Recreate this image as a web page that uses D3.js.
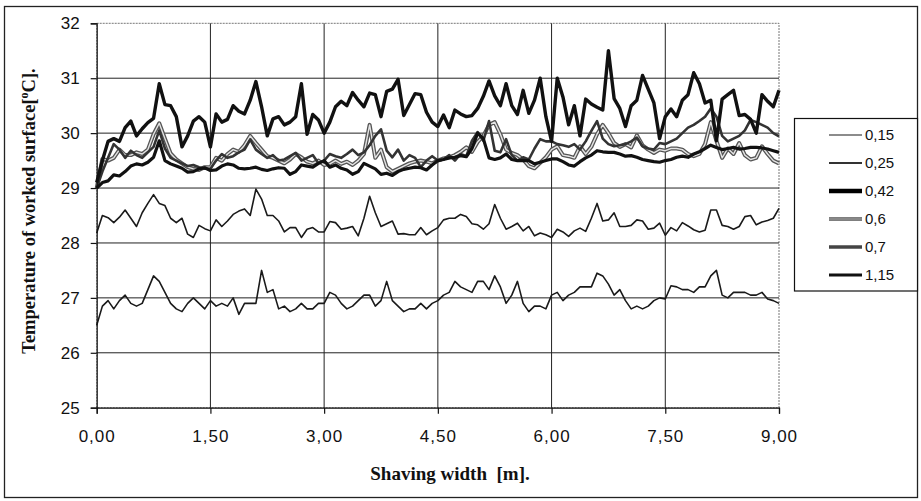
<!DOCTYPE html>
<html><head><meta charset="utf-8">
<script src="https://cdn.jsdelivr.net/npm/d3@7"></script>
<style>body{margin:0;background:#fff}</style>
</head><body><svg id="c" width="921" height="501"></svg>
<script>
// ---- data ----
const xStep = 0.075; // shaving width step [m]
const seriesNames = ["0,15", "0,25", "0,42", "0,6", "0,7", "1,15"];
const s015 = [26.5,26.85,26.95,26.8,26.95,27.05,26.9,26.85,26.9,27.15,27.4,27.3,27.1,26.9,26.8,26.75,26.9,27.0,26.9,26.8,
26.95,26.85,26.9,26.85,27.0,26.7,26.9,26.9,26.9,27.5,27.1,27.15,26.8,26.85,26.75,26.8,26.9,26.8,26.8,26.9,
26.9,27.1,27.05,26.9,26.8,26.85,26.95,27.05,27.05,26.85,26.95,27.3,26.95,26.85,26.75,26.8,26.8,26.9,26.8,26.9,
26.95,27.05,27.1,27.3,27.2,27.15,27.1,27.3,27.3,27.15,27.4,27.2,26.9,27.05,27.3,26.9,26.75,26.85,26.85,26.8,
27.05,27.1,26.95,27.05,27.1,27.2,27.2,27.2,27.45,27.4,27.25,27.05,27.15,26.95,26.8,26.85,26.8,26.85,26.95,27.0,
26.98,27.22,27.2,27.15,27.15,27.1,27.2,27.2,27.4,27.5,27.05,27.0,27.1,27.1,27.1,27.05,27.05,27.1,26.98,26.95,26.9];
const s025 = [28.18,28.5,28.46,28.37,28.47,28.6,28.45,28.3,28.55,28.72,28.88,28.72,28.68,28.45,28.37,28.45,28.16,28.1,28.32,28.26,
28.22,28.42,28.3,28.4,28.52,28.58,28.62,28.5,28.98,28.8,28.5,28.5,28.4,28.2,28.28,28.28,28.1,28.25,28.28,28.2,
28.2,28.39,28.37,28.25,28.27,28.3,28.13,28.45,28.85,28.55,28.3,28.35,28.4,28.16,28.17,28.15,28.15,28.28,28.15,28.22,
28.28,28.42,28.45,28.45,28.52,28.48,28.35,28.33,28.25,28.35,28.7,28.45,28.25,28.3,28.36,28.22,28.3,28.13,28.18,28.15,
28.1,28.25,28.2,28.12,28.22,28.27,28.21,28.45,28.72,28.4,28.42,28.55,28.3,28.3,28.32,28.42,28.4,28.25,28.27,28.36,
28.14,28.28,28.22,28.37,28.31,28.24,28.2,28.23,28.6,28.6,28.32,28.3,28.25,28.3,28.48,28.5,28.33,28.38,28.41,28.45,28.63];
const s042 = [29.0,29.1,29.13,29.24,29.22,29.3,29.4,29.44,29.42,29.47,29.56,29.86,29.5,29.44,29.4,29.36,29.29,29.3,29.35,29.37,
29.32,29.33,29.4,29.44,29.42,29.36,29.35,29.36,29.38,29.34,29.32,29.35,29.37,29.36,29.25,29.3,29.42,29.4,29.38,29.45,
29.5,29.38,29.42,29.36,29.33,29.25,29.3,29.45,29.4,29.35,29.25,29.27,29.23,29.3,29.34,29.36,29.38,29.37,29.33,29.42,
29.5,29.52,29.55,29.56,29.59,29.57,29.72,30.0,29.9,29.55,29.52,29.55,29.62,29.52,29.5,29.5,29.5,29.44,29.47,29.5,
29.53,29.53,29.48,29.42,29.4,29.48,29.55,29.6,29.68,29.66,29.65,29.65,29.62,29.58,29.59,29.56,29.52,29.5,29.48,29.47,
29.5,29.52,29.56,29.58,29.56,29.62,29.66,29.72,29.78,29.74,29.7,29.72,29.74,29.71,29.72,29.74,29.74,29.73,29.71,29.68,29.65];
const s06 = [29.0,29.53,29.5,29.55,29.7,29.6,29.6,29.65,29.62,29.7,29.98,30.18,29.9,29.63,29.52,29.45,29.38,29.35,29.33,29.38,
29.38,29.55,29.5,29.62,29.7,29.66,29.78,29.95,29.82,29.7,29.58,29.55,29.5,29.45,29.52,29.62,29.56,29.48,29.45,29.5,
29.42,29.44,29.5,29.44,29.48,29.42,29.5,29.62,30.15,29.55,29.7,29.38,29.3,29.35,29.4,29.45,29.48,29.5,29.48,29.45,
29.5,29.54,29.56,29.6,29.66,29.74,29.66,29.84,29.95,30.15,30.2,29.98,29.7,29.64,29.6,29.52,29.4,29.36,29.46,29.56,
29.7,29.76,29.6,29.58,29.55,29.76,29.62,29.75,29.98,30.15,30.0,29.82,29.75,29.8,29.74,29.96,29.78,29.7,29.64,29.7,
29.68,29.72,29.72,29.7,29.62,29.58,29.62,29.8,30.2,29.86,29.55,29.72,29.62,29.82,29.6,29.52,29.55,29.76,29.62,29.5,29.45];
const s07 = [29.0,29.3,29.55,29.8,29.7,29.55,29.68,29.6,29.55,29.65,29.75,30.05,29.72,29.55,29.5,29.45,29.4,29.42,29.38,29.35,
29.35,29.5,29.62,29.55,29.58,29.65,29.7,29.88,29.7,29.62,29.55,29.6,29.5,29.52,29.58,29.64,29.5,29.55,29.6,29.45,
29.5,29.62,29.58,29.55,29.62,29.7,29.6,29.65,29.78,29.95,30.07,29.68,29.56,29.7,29.5,29.6,29.55,29.38,29.5,29.58,
29.5,29.52,29.6,29.5,29.62,29.58,29.86,30.02,29.86,30.22,29.68,29.65,29.89,29.6,29.5,29.56,29.52,29.72,29.89,29.85,
29.85,29.8,29.78,29.75,29.8,29.7,29.85,30.04,30.22,29.9,29.8,29.76,29.78,29.8,29.85,29.92,29.76,29.72,29.7,29.82,
29.8,29.85,29.9,30.0,30.1,30.15,30.22,30.3,30.45,30.3,29.95,29.85,29.9,29.95,30.05,30.24,30.2,30.15,30.1,30.0,29.94];
const s115 = [29.1,29.5,29.85,29.9,29.85,30.1,30.22,29.95,30.08,30.19,30.27,30.9,30.52,30.5,30.3,29.75,29.95,30.22,30.3,30.2,
29.75,30.35,30.2,30.25,30.5,30.4,30.35,30.6,30.94,30.48,29.95,30.26,30.3,30.15,30.2,30.3,30.9,29.98,30.34,30.24,
30.0,30.2,30.48,30.58,30.5,30.74,30.6,30.48,30.73,30.7,30.3,30.76,30.8,30.98,30.32,30.52,30.72,30.7,30.38,30.2,
30.12,30.33,30.1,30.42,30.35,30.3,30.32,30.45,30.67,30.95,30.68,30.5,30.9,30.5,30.34,30.78,30.36,30.6,31.0,30.3,
29.85,31.0,30.66,30.15,30.5,29.95,30.62,30.53,30.47,30.42,31.5,30.63,30.45,30.12,30.5,30.6,31.05,30.8,30.55,29.9,
30.3,30.44,30.3,30.6,30.7,31.1,30.9,30.55,30.6,29.86,30.62,30.7,30.78,30.32,30.34,30.25,30.0,30.7,30.58,30.48,30.78];
const xTicks = [0, 1.5, 3, 4.5, 6, 7.5, 9];
const yTicks = [25, 26, 27, 28, 29, 30, 31, 32];

// ---- layout ----
const svg = d3.select("#c");
const L = 96.7, R = 779, T = 23.3, B = 407.7;
const x = d3.scaleLinear().domain([0, 9]).range([L, R]);
const y = d3.scaleLinear().domain([25, 32]).range([B, T]);

// outer frame
svg.append("rect").attr("x", 4.5).attr("y", 6.5).attr("width", 913).attr("height", 491)
  .attr("fill", "none").attr("stroke", "#222").attr("stroke-width", 1.3);

// plot border (dotted)
svg.append("rect").attr("x", L).attr("y", T).attr("width", R - L).attr("height", B - T)
  .attr("fill", "none").attr("stroke", "#777").attr("stroke-width", 1).attr("stroke-dasharray", "2,1");

// gridlines
svg.append("g").selectAll("line").data(yTicks.slice(1, -1)).join("line")
  .attr("x1", L).attr("x2", R).attr("y1", d => y(d)).attr("y2", d => y(d))
  .attr("stroke", "#222").attr("stroke-width", 1);
svg.append("g").selectAll("line").data(xTicks.slice(1, -1)).join("line")
  .attr("y1", T).attr("y2", B).attr("x1", d => x(d)).attr("x2", d => x(d))
  .attr("stroke", "#222").attr("stroke-width", 1);

// series
const styles = [
  {data: s015, layers: [{c: "#1a1a1a", w: 1.6}]},
  {data: s025, layers: [{c: "#1a1a1a", w: 1.6}]},
  {data: s042, layers: [{c: "#111", w: 3.2}]},
  {data: s06, layers: [{c: "#555", w: 4}, {c: "#e4e4e4", w: 1.4}]},
  {data: s07, layers: [{c: "#333", w: 2.6}]},
  {data: s115, layers: [{c: "#111", w: 3.4}]}
];
const line = d3.line().x((d, i) => x(i * xStep)).y(d => y(d));
const order = [0, 1, 3, 4, 2, 5];
order.forEach(k => {
  styles[k].layers.forEach(l => {
    svg.append("path").datum(styles[k].data).attr("d", line)
      .attr("fill", "none").attr("stroke", l.c).attr("stroke-width", l.w)
      .attr("stroke-linejoin", "round");
  });
});

// axes
const fmtX = d => d.toFixed(2).replace(".", ",");
const gx = svg.append("g").attr("transform", `translate(0,${B})`)
  .call(d3.axisBottom(x).tickValues(xTicks).tickFormat(fmtX).tickSize(6).tickPadding(16));
const gy = svg.append("g").attr("transform", `translate(${L},0)`)
  .call(d3.axisLeft(y).tickValues(yTicks).tickFormat(d3.format("d")).tickSize(6).tickPadding(11));
[gx, gy].forEach(g => {
  g.select(".domain").attr("stroke", "#111").attr("stroke-width", 1.2);
  g.selectAll(".tick line").attr("stroke", "#111").attr("stroke-width", 1.2);
  g.selectAll("text").attr("font-family", "Arial, 'Liberation Sans', sans-serif")
    .attr("font-size", 17).attr("fill", "#111");
});
gx.selectAll("text").attr("letter-spacing", 1);

// axis titles
const yt = svg.append("text").attr("transform", "translate(35,211) rotate(-90)")
  .attr("text-anchor", "middle").attr("font-family", "'Times New Roman', 'Liberation Serif', serif")
  .attr("font-weight", "bold").attr("font-size", 18.5).attr("fill", "#111");
yt.append("tspan").text("Temperature of worked surface[");
yt.append("tspan").attr("dy", -7).attr("font-size", 12).text("o");
yt.append("tspan").attr("dy", 7).text("C].");

svg.append("text").attr("x", 450).attr("y", 480).attr("text-anchor", "middle")
  .attr("font-family", "'Times New Roman', 'Liberation Serif', serif").attr("font-weight", "bold")
  .attr("font-size", 19).attr("fill", "#111").attr("xml:space", "preserve")
  .text("Shaving width  [m].");

// legend
svg.append("rect").attr("x", 794.5).attr("y", 118.5).attr("width", 123).attr("height", 172.5)
  .attr("fill", "#fff").attr("stroke", "#111").attr("stroke-width", 1.2);
const legendStyles = [
  [{c: "#666", w: 1.6}],
  [{c: "#333", w: 1.8}],
  [{c: "#000", w: 4.5}],
  [{c: "#555", w: 3.5}, {c: "#bbb", w: 1.2}],
  [{c: "#444", w: 3.5}],
  [{c: "#111", w: 3}]
];
seriesNames.forEach((n, i) => {
  const yy = 135 + i * 28;
  legendStyles[i].forEach(l => {
    svg.append("line").attr("x1", 829).attr("x2", 862).attr("y1", yy).attr("y2", yy)
      .attr("stroke", l.c).attr("stroke-width", l.w);
  });
  svg.append("text").attr("x", 865).attr("y", yy + 5).attr("font-family", "Arial, 'Liberation Sans', sans-serif")
    .attr("font-size", 15).attr("fill", "#111").text(n);
});
</script></body></html>
